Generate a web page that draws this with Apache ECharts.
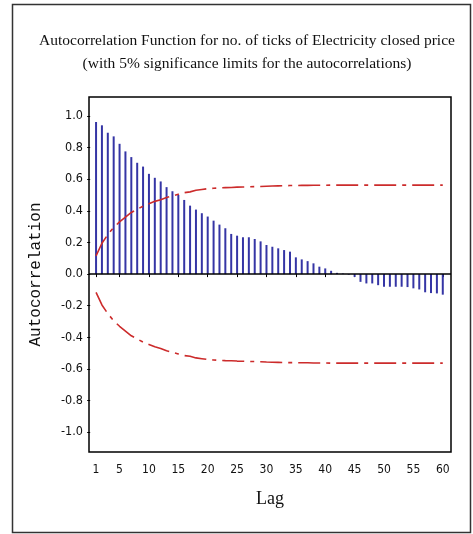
<!DOCTYPE html>
<html>
<head>
<meta charset="utf-8">
<script src="https://cdn.jsdelivr.net/npm/echarts@6/dist/echarts.min.js"></script>
<style>
  html, body { margin: 0; padding: 0; background: #fff; }
  #chart { width: 473px; height: 534px; }
</style>
</head>
<body>
<div id="chart"></div>
<script>
// Lags 1..60
const lags = [
  1, 2, 3, 4, 5, 6, 7, 8, 9, 10,
  11, 12, 13, 14, 15, 16, 17, 18, 19, 20,
  21, 22, 23, 24, 25, 26, 27, 28, 29, 30,
  31, 32, 33, 34, 35, 36, 37, 38, 39, 40,
  41, 42, 43, 44, 45, 46, 47, 48, 49, 50,
  51, 52, 53, 54, 55, 56, 57, 58, 59, 60
];

// Sample autocorrelation at each lag
const acf = [
  0.962, 0.941, 0.894, 0.871, 0.824, 0.776, 0.740, 0.704, 0.680, 0.634,
  0.609, 0.586, 0.550, 0.524, 0.501, 0.469, 0.433, 0.408, 0.385, 0.364,
  0.338, 0.313, 0.290, 0.254, 0.243, 0.233, 0.233, 0.222, 0.207, 0.184,
  0.173, 0.163, 0.152, 0.142, 0.106, 0.093, 0.082, 0.068, 0.047, 0.036,
  0.021, 0.008, 0.004, -0.004, -0.018, -0.049, -0.059, -0.059, -0.070, -0.080,
  -0.080, -0.080, -0.080, -0.082, -0.090, -0.097, -0.115, -0.120, -0.122, -0.130
];

// 5% significance limit (drawn as +limit and -limit)
const limit = [
  0.115, 0.195, 0.250, 0.295, 0.330, 0.360, 0.390, 0.410, 0.430, 0.445,
  0.460, 0.470, 0.485, 0.495, 0.505, 0.515, 0.520, 0.530, 0.535, 0.540,
  0.543, 0.545, 0.547, 0.548, 0.550, 0.551, 0.552, 0.553, 0.554, 0.556,
  0.557, 0.558, 0.559, 0.560, 0.560, 0.561, 0.561, 0.562, 0.562, 0.562,
  0.563, 0.563, 0.563, 0.563, 0.563, 0.563, 0.563, 0.563, 0.563, 0.563,
  0.563, 0.563, 0.563, 0.563, 0.563, 0.563, 0.563, 0.563, 0.563, 0.563
];

const xTicks = [1, 5, 10, 15, 20, 25, 30, 35, 40, 45, 50, 55, 60];
const yTicks = [-1.0, -0.8, -0.6, -0.4, -0.2, 0.0, 0.2, 0.4, 0.6, 0.8, 1.0];

const titleLines = [
  'Autocorrelation Function for no. of ticks of Electricity closed price',
  '(with 5% significance limits for the autocorrelations)'
];

const tickFont = "'Liberation Sans Narrow', 'DejaVu Sans Condensed', 'DejaVu Sans', sans-serif";
const serifFont = "'Liberation Serif', 'DejaVu Serif', serif";

const chart = echarts.init(document.getElementById('chart'), null, { renderer: 'canvas' });

const limitStyle = {
  color: '#cc2b2b',
  width: 1.6,
  type: [22, 6, 4, 6]
};

// Outer frame plus the two centred title lines
const graphics = [{
  type: 'rect',
  shape: { x: 12.5, y: 4.5, width: 458, height: 528 },
  style: { fill: 'none', stroke: '#333', lineWidth: 1.5 },
  silent: true
}].concat(titleLines.map((line, i) => ({
  type: 'text',
  x: 247,
  y: 41 + i * 23,
  silent: true,
  style: {
    text: line,
    fill: '#111',
    font: '15.5px ' + serifFont,
    align: 'center',
    verticalAlign: 'middle'
  }
})));

chart.setOption({
  animation: false,
  backgroundColor: '#fff',
  graphic: graphics,
  grid: {
    left: 89, right: 22, top: 97, bottom: 82,
    show: true,
    borderColor: '#000',
    borderWidth: 1.5,
    backgroundColor: '#fff'
  },
  xAxis: {
    type: 'value',
    min: -0.2,
    max: 61.4,
    name: 'Lag',
    nameLocation: 'middle',
    nameGap: 38,
    nameTextStyle: {
      fontFamily: serifFont,
      fontSize: 18,
      color: '#111'
    },
    splitLine: { show: false },
    axisLine: { show: false },
    axisTick: {
      show: true, inside: false, length: 3,
      customValues: xTicks,
      lineStyle: { color: '#000', width: 1 }
    },
    axisLabel: {
      customValues: xTicks,
      margin: 12,
      fontFamily: tickFont,
      fontSize: 12,
      color: '#111'
    }
  },
  yAxis: {
    type: 'value',
    min: -1.125,
    max: 1.12,
    name: 'Autocorrelation',
    nameLocation: 'middle',
    nameGap: 45,
    nameRotate: 90,
    nameTextStyle: {
      fontFamily: "'Liberation Mono', 'DejaVu Sans Mono', monospace",
      fontSize: 16,
      color: '#111'
    },
    splitLine: { show: false },
    axisLine: { show: false },
    axisTick: {
      show: true, inside: false, length: 3,
      customValues: yTicks,
      lineStyle: { color: '#000', width: 1 }
    },
    axisLabel: {
      customValues: yTicks,
      margin: 6,
      fontFamily: tickFont,
      fontSize: 12.5,
      color: '#111',
      formatter: v => v.toFixed(1)
    }
  },
  series: [
    {
      name: 'ACF',
      type: 'bar',
      barWidth: 2,
      itemStyle: { color: '#3535a5' },
      data: lags.map((l, i) => [l, acf[i]]),
      markLine: {
        silent: true,
        symbol: ['none', 'none'],
        label: { show: false },
        lineStyle: { color: '#000', width: 1.5, type: 'solid' },
        data: [{ yAxis: 0 }]
      }
    },
    {
      name: 'Upper limit',
      type: 'line',
      symbol: 'none',
      lineStyle: limitStyle,
      data: lags.map((l, i) => [l, limit[i]])
    },
    {
      name: 'Lower limit',
      type: 'line',
      symbol: 'none',
      lineStyle: limitStyle,
      data: lags.map((l, i) => [l, -limit[i]])
    }
  ]
});
</script>
</body>
</html>
